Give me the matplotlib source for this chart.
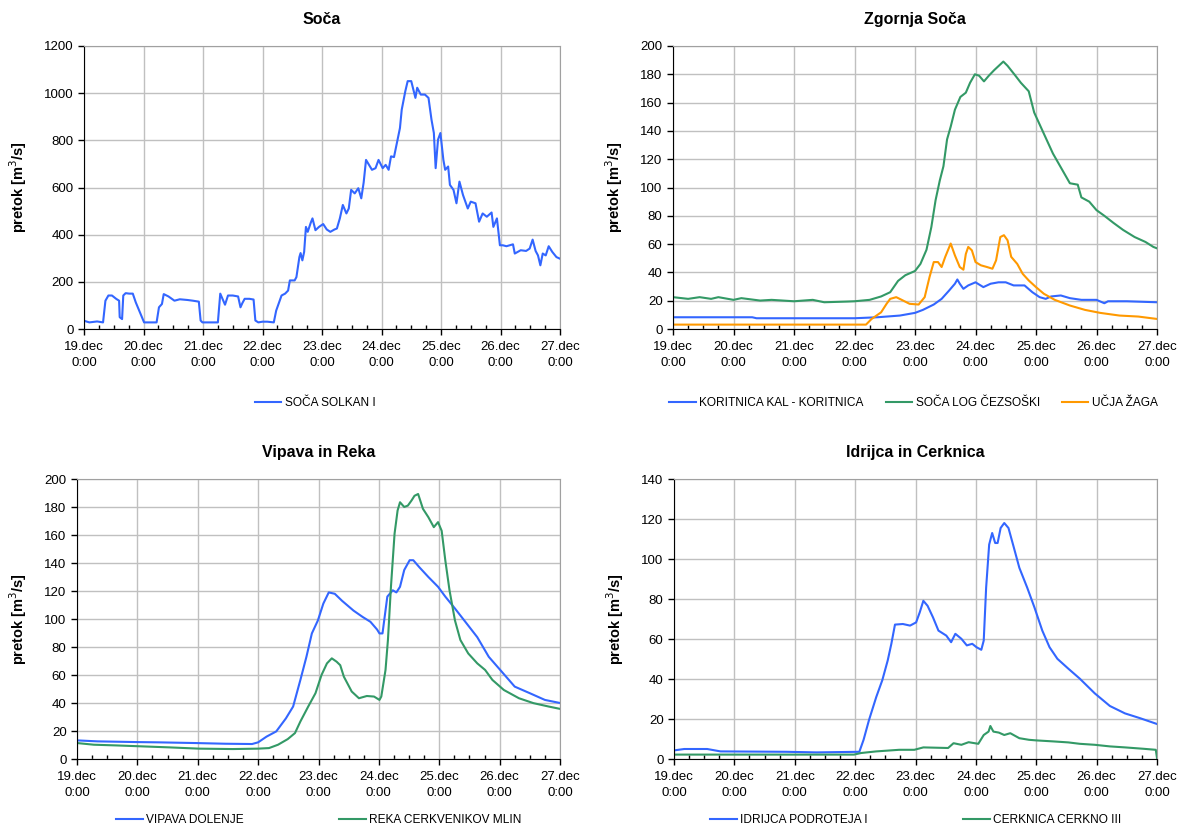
import numpy as np
import matplotlib
matplotlib.use('Agg')
import matplotlib.pyplot as plt
from matplotlib.ticker import MultipleLocator

plt.rcParams['font.family'] = ['Liberation Sans', 'DejaVu Sans']

# time axis in days since 19.dec 0:00
tick_labels = ['19.dec\n0:00', '20.dec\n0:00', '21.dec\n0:00', '22.dec\n0:00', '23.dec\n0:00',
               '24.dec\n0:00', '25.dec\n0:00', '26.dec\n0:00', '27.dec\n0:00']

# --- Soča ---
solkan_t = [0, 0.09, 0.22, 0.32, 0.36, 0.41, 0.47, 0.54, 0.59, 0.60, 0.64, 0.66, 0.70, 0.76, 0.82, 0.87,
            0.95, 1.01, 1.11, 1.22, 1.26, 1.31, 1.34, 1.42, 1.52, 1.61, 1.74, 1.83, 1.93, 1.96, 1.99,
            2.12, 2.25, 2.29, 2.34, 2.37, 2.42, 2.50, 2.59, 2.63, 2.66, 2.70, 2.78, 2.85, 2.88, 2.93,
            3.00, 3.08, 3.19, 3.23, 3.27, 3.32, 3.38, 3.43, 3.46, 3.54, 3.57, 3.62, 3.64, 3.67, 3.70,
            3.73, 3.76, 3.81, 3.84, 3.89, 3.95, 4.02, 4.08, 4.14, 4.21, 4.25, 4.30, 4.35, 4.41, 4.45,
            4.49, 4.55, 4.61, 4.66, 4.70, 4.74, 4.84, 4.90, 4.95, 5.02, 5.07, 5.12, 5.16, 5.21, 5.27,
            5.31, 5.34, 5.40, 5.44, 5.50, 5.57, 5.60, 5.66, 5.73, 5.79, 5.84, 5.88, 5.91, 5.95, 5.99,
            6.04, 6.07, 6.12, 6.15, 6.21, 6.26, 6.31, 6.37, 6.45, 6.50, 6.58, 6.64, 6.70, 6.77, 6.85,
            6.88, 6.94, 6.99, 7.04, 7.10, 7.21, 7.24, 7.34, 7.43, 7.49, 7.54, 7.59, 7.63, 7.67, 7.71,
            7.76, 7.81, 7.87, 7.94, 8.00]
solkan_v = [35, 28, 32, 28, 120, 142, 142, 128, 120, 50, 42, 142, 152, 150, 150, 113,
            64, 28, 28, 28, 92, 106, 148, 138, 120, 126, 123, 120, 116, 36, 28,
            28, 28, 150, 120, 103, 142, 142, 138, 92, 109, 128, 128, 125, 36, 28,
            31, 31, 28, 78, 106, 142, 150, 163, 206, 206, 220, 305, 322, 291, 327,
            433, 412, 450, 469, 419, 433, 445, 422, 412, 422, 426, 469, 526, 490, 511,
            590, 575, 597, 554, 621, 717, 675, 682, 717, 682, 696, 675, 732, 729, 803,
            852, 930, 1008, 1051, 1051, 980, 1023, 994, 994, 980, 888, 831, 682, 803, 831,
            717, 675, 689, 611, 590, 533, 625, 568, 511, 540, 533, 455, 490, 476, 494,
            433, 469, 355, 355, 351, 359, 320, 334, 331, 341, 379, 331, 312, 270, 320,
            312, 351, 327, 305, 298]

# --- Zgornja Soča ---
koritnica_t = [0, 1.31, 1.38, 3.0, 3.38, 3.75, 4.0, 4.13, 4.31, 4.44, 4.56, 4.66, 4.70, 4.74, 4.80, 4.88,
               5.0, 5.13, 5.25, 5.38, 5.5, 5.63, 5.81, 5.94, 6.06, 6.16, 6.25, 6.41, 6.56, 6.75, 7.0,
               7.13, 7.19, 7.5, 8.0]
koritnica_v = [8.3, 8.3, 7.6, 7.6, 8.3, 9.5, 11.4, 13.5, 17.3, 21.3, 27, 32, 35, 32, 28.4, 30.8,
               33, 29.6, 32, 33, 33, 30.8, 30.8, 26, 22.5, 21.3, 23, 23.7, 21.8, 20.6, 20.6,
               18.2, 19.6, 19.6, 18.9]
log_t = [0, 0.25, 0.44, 0.63, 0.75, 1.0, 1.13, 1.44, 1.63, 2.0, 2.31, 2.5, 2.88, 3.0, 3.25, 3.44, 3.59,
         3.72, 3.84, 4.0, 4.09, 4.19, 4.27, 4.34, 4.41, 4.47, 4.53, 4.59, 4.66, 4.75, 4.84, 4.91, 4.99,
         5.06, 5.14, 5.22, 5.31, 5.46, 5.53, 5.66, 5.75, 5.88, 5.97, 6.13, 6.28, 6.44, 6.56, 6.69,
         6.75, 6.88, 7.0, 7.13, 7.28, 7.44, 7.63, 7.81, 7.94, 8.0]
log_v = [22.5, 21.3, 22.5, 21.3, 22.5, 20.6, 21.8, 20.1, 20.6, 19.6, 20.6, 18.9, 19.4, 19.6, 20.6, 23, 26,
         34, 38, 41, 46, 56, 72, 91, 105, 115, 134, 143, 155, 164, 167, 174, 180,
         179, 175, 179, 183, 189, 186, 179, 174, 168, 153, 138, 124, 112, 103, 102,
         93, 90, 84, 80, 75, 70, 65, 61.5, 58, 57]
ucja_t = [0, 3.19, 3.28, 3.44, 3.53, 3.59, 3.69, 3.78, 3.91, 4.06, 4.16, 4.24, 4.31, 4.38, 4.44, 4.5,
          4.59, 4.66, 4.74, 4.80, 4.84, 4.88, 4.94, 5.0, 5.09, 5.19, 5.28, 5.34, 5.41, 5.47, 5.53,
          5.59, 5.69, 5.78, 5.88, 6.0, 6.13, 6.31, 6.56, 6.81, 7.06, 7.38, 7.69, 8.0]
ucja_v = [3.1, 3.1, 7, 11.8, 17.8, 21.3, 22.5, 20.6, 17.8, 17.3, 22.5, 36.7, 47.3, 47.3, 43.8, 51,
          60.4, 52, 43.8, 41.9, 53, 58, 55.6, 47.3, 45, 43.8, 42.6, 48.5, 65, 66.3, 62.7,
          51, 46, 39, 34.3, 29.6, 24.9, 20.6, 16.6, 13.5, 11.4, 9.5, 8.8, 7.1]

# --- Vipava in Reka ---
vipava_t = [0, 0.34, 0.97, 1.34, 1.96, 2.46, 2.9, 3.0, 3.14, 3.3, 3.46, 3.58, 3.7, 3.8, 3.89, 3.99,
            4.08, 4.17, 4.27, 4.39, 4.58, 4.73, 4.86, 4.97, 5.01, 5.06, 5.14, 5.23, 5.29, 5.35, 5.42,
            5.51, 5.57, 5.67, 5.82, 5.98, 6.1, 6.26, 6.45, 6.63, 6.82, 7.01, 7.25, 7.5, 7.75, 8.0]
vipava_v = [13.3, 12.6, 12.1, 11.9, 11.4, 10.9, 10.7, 11.9, 16, 19.7, 29, 37.5, 56.5, 73, 89.7, 99,
            111, 119, 118, 113, 106, 101.5, 98, 92.5, 89.7, 89.7, 116, 120.5, 119, 123, 135,
            142, 142, 137, 130, 123, 116, 107.5, 97, 87, 73, 63.6, 51.7, 47, 42.2, 40]
reka_t = [0, 0.28, 0.65, 1.09, 1.53, 2.02, 2.58, 3.0, 3.18, 3.33, 3.49, 3.61, 3.7, 3.83, 3.95, 4.05,
          4.14, 4.22, 4.3, 4.36, 4.42, 4.55, 4.67, 4.8, 4.92, 5.01, 5.04, 5.11, 5.15, 5.2, 5.26,
          5.31, 5.35, 5.42, 5.48, 5.54, 5.59, 5.65, 5.73, 5.82, 5.91, 5.98, 6.04, 6.1, 6.17, 6.26,
          6.35, 6.48, 6.63, 6.76, 6.88, 7.07, 7.32, 7.56, 7.81, 8.0]
reka_v = [11.4, 10.2, 9.7, 9, 8.3, 7.4, 7.1, 7.4, 7.8, 10.2, 14.2, 18.5, 26.8, 37.5, 47, 60,
          68.3, 71.9, 69.5, 67, 58.8, 48.2, 43.4, 45, 44.6, 42.2, 44.6, 63.6, 85, 123, 161,
          177.5, 183.4, 180, 181, 184.6, 188, 189.3, 178.7, 172.7, 165.6, 169.2, 163, 142, 120.5, 99,
          85, 75.4, 68.3, 63.6, 56.5, 49.3, 43.4, 39.9, 37.5, 35.8]

# --- Idrijca in Cerknica ---
idrijca_t = [0, 0.17, 0.55, 0.77, 1.86, 2.36, 3.07, 3.14, 3.23, 3.35, 3.45, 3.54, 3.6, 3.66, 3.79, 3.91,
             4.01, 4.07, 4.13, 4.2, 4.29, 4.38, 4.51, 4.59, 4.66, 4.76, 4.85, 4.94, 5.01, 5.09, 5.13,
             5.17, 5.22, 5.27, 5.32, 5.36, 5.41, 5.47, 5.54, 5.63, 5.72, 5.85, 5.97, 6.1, 6.22, 6.35,
             6.53, 6.72, 6.97, 7.22, 7.47, 7.72, 8.0]
idrijca_v = [4.3, 5, 5, 3.8, 3.6, 3.3, 3.6, 9.6, 19.5, 31, 39.4, 49.3, 57.6, 67.2, 67.5, 66.7,
             68.3, 73.3, 79.1, 76.6, 70.8, 64.2, 61.7, 58.4, 62.6, 60.1, 56.8, 57.6, 55.9, 54.6, 59.2,
             85.7, 107.2, 113, 108, 108, 115.5, 118, 115.5, 105.6, 95.6, 85.7, 75.8, 64.2, 55.9, 50.1,
             45.2, 40.2, 32.8, 26.5, 22.8, 20.4, 17.5]
cerkno_t = [0, 2.98, 3.1, 3.35, 3.73, 3.98, 4.13, 4.54, 4.63, 4.76, 4.88, 5.04, 5.13, 5.21, 5.24, 5.29,
            5.38, 5.47, 5.57, 5.72, 5.88, 6.0, 6.28, 6.53, 6.72, 6.97, 7.22, 7.47, 7.78, 7.98, 8.0]
cerkno_v = [2.2, 2.2, 3, 3.8, 4.6, 4.6, 5.8, 5.5, 7.9, 7.1, 8.4, 7.6, 12, 13.7, 16.5, 13.7,
            13.2, 12, 12.9, 10.4, 9.6, 9.3, 8.8, 8.3, 7.6, 7.1, 6.3, 5.8, 5.1, 4.6, 0.5]

BLUE = '#3366ff'
GREEN = '#339966'
ORANGE = '#ff9900'

fig = plt.figure(figsize=(11.83, 8.27), dpi=100)

panels = [
    # position, title, ymax, ystep, series, legend center x, legend y, colspacing
    ([84/1183, 1-329/827, 476/1183, 283/827], 'Soča', 1200, 200,
     [(solkan_t, solkan_v, BLUE, 'SOČA SOLKAN I')], 0.2663, 1-403/827, 1.85),
    ([673/1183, 1-329/827, 484/1183, 283/827], 'Zgornja Soča', 200, 20,
     [(koritnica_t, koritnica_v, BLUE, 'KORITNICA KAL - KORITNICA'),
      (log_t, log_v, GREEN, 'SOČA LOG ČEZSOŠKI'),
      (ucja_t, ucja_v, ORANGE, 'UČJA ŽAGA')], 0.7722, 1-403/827, 1.85),
    ([77/1183, 1-759/827, 483/1183, 280/827], 'Vipava in Reka', 200, 20,
     [(vipava_t, vipava_v, BLUE, 'VIPAVA DOLENJE'),
      (reka_t, reka_v, GREEN, 'REKA CERKVENIKOV MLIN')], 0.2697, 1-820/827, 8.0),
    ([674/1183, 1-759/827, 483/1183, 280/827], 'Idrijca in Cerknica', 140, 20,
     [(idrijca_t, idrijca_v, BLUE, 'IDRIJCA PODROTEJA I'),
      (cerkno_t, cerkno_v, GREEN, 'CERKNICA CERKNO III')], 0.7743, 1-820/827, 8.0),
]

for pos, title, ymax, ystep, series, lx, ly, cs in panels:
    ax = fig.add_axes(pos)
    handles = []
    for t, v, c, name in series:
        h, = ax.plot(t, v, color=c, lw=1.5, label=name)
        handles.append(h)
    ax.set_xlim(0, 8)
    ax.set_ylim(0, ymax)
    ax.set_xticks(range(9))
    ax.set_xticklabels(tick_labels, fontsize=9.5, linespacing=1.4)
    ax.xaxis.set_minor_locator(MultipleLocator(0.25))
    ax.yaxis.set_major_locator(MultipleLocator(ystep))
    ax.tick_params(axis='y', labelsize=9.5, direction='out', length=4, width=1)
    ax.tick_params(axis='x', which='major', direction='out', length=4, width=1, pad=5)
    ax.tick_params(axis='x', which='minor', direction='in', length=3, width=1)
    ax.grid(True, color='#c0c0c0', lw=1)
    ax.set_axisbelow(True)
    for s in ['top', 'right']:
        ax.spines[s].set_color('#a0a0a0')
    for s in ['left', 'bottom']:
        ax.spines[s].set_color('black')
    ax.set_title(title, fontsize=11.5, fontweight='bold', pad=16)
    ax.set_ylabel('pretok [m$^3$/s]', fontsize=10.5, fontweight='bold', labelpad=11)
    fig.legend(handles=handles, loc='center', bbox_to_anchor=(lx, ly), ncol=len(handles),
               frameon=False, fontsize=8.6, handlelength=2.2, handletextpad=0.3, columnspacing=cs)

fig.savefig('out.png', dpi=100)
